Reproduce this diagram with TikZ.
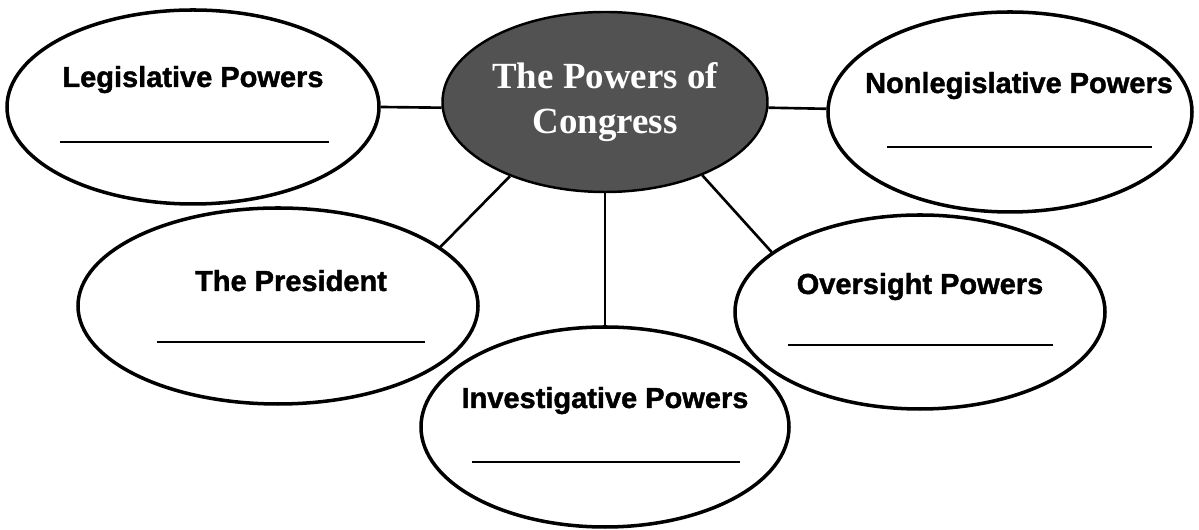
\documentclass[tikz,border=0pt]{standalone}
\usepackage{fontspec}
\usepackage{tikz}
\usetikzlibrary{shapes.geometric,positioning,calc}
\newfontfamily\topicfont[BoldFont={Liberation Sans Bold},
	BoldFeatures={FakeBold=1.4}]{Liberation Sans}
\newfontfamily\hubfont{Liberation Serif}
\tikzset{
	thick,
	every edge/.style={draw=black},
}
\begin{document}
\begin{tikzpicture}
			[font=\topicfont\bfseries\fontsize{16.5}{19}\selectfont,
				% STYLES
				% The bubble style is used for the five outer ovals
				bubble/.style={ellipse, draw, line width=2pt, inner sep=0pt},
				% The hub style is used for the dark oval in the middle
				hub/.style={ellipse, draw, line width=1.4pt, fill=black!68,
						inner sep=0pt, text=white, align=center,
						font=\hubfont\bfseries\fontsize{21}{25.6}\selectfont},
				% The topic style is used to write each oval's title
				topic/.style={anchor=base, inner sep=0pt},
				% The blank style is used for the empty answer lines
				blank/.style={line width=1.3pt}]
			\useasboundingbox (0,0) rectangle (23.98,10.6);

			% Draw ovals
			\node [hub, minimum width=6.5cm, minimum height=3.6cm] (cen)
			at (12.10,8.56) {The Powers of \\ Congress};
			\node [bubble, minimum width=7.44cm, minimum height=3.88cm] (leg)
			at (3.86,8.46) {};
			\node [bubble, minimum width=7.28cm, minimum height=4.0cm] (non)
			at (20.20,8.36) {};
			\node [bubble, minimum width=8.0cm, minimum height=3.92cm] (pres)
			at (5.56,4.48) {};
			\node [bubble, minimum width=7.4cm, minimum height=3.88cm] (ovs)
			at (18.40,4.36) {};
			\node [bubble, minimum width=7.36cm, minimum height=4.0cm] (inv)
			at (12.10,2.06) {};

			%%%%%%%%%%%%%%%
			% Titles

			\node [topic] (legT) at ($(leg)+(0,0.40)$) {Legislative Powers};
			\node [topic] (nonT) at ($(non)+(0.18,0.38)$) {Nonlegislative Powers};
			\node [topic] (presT) at ($(pres)+(0.26,0.30)$) {The President};
			\node [topic] (ovsT) at ($(ovs)+(0,0.36)$) {Oversight Powers};
			\node [topic] (invT) at ($(inv)+(0,0.38)$) {Investigative Powers};

			% Answer lines
			\draw [blank] ($(leg)+(-2.66,-0.70)$) -- ++(5.38,0);
			\draw [blank] ($(non)+(-2.46,-0.70)$) -- ++(5.30,0);
			\draw [blank] ($(pres)+(-2.42,-0.72)$) -- ++(5.36,0);
			\draw [blank] ($(ovs)+(-2.64,-0.66)$) -- ++(5.30,0);
			\draw [blank] ($(inv)+(-2.66,-0.70)$) -- ++(5.36,0);

			\path[line width=1.5pt]
			(leg.east) edge (cen.182)
			(cen.358) edge (non.179)
			(cen.218) edge (pres.20)
			(cen.south) edge (inv.north)
			(cen.323) edge (ovs.158);

		\end{tikzpicture}
\end{document}
